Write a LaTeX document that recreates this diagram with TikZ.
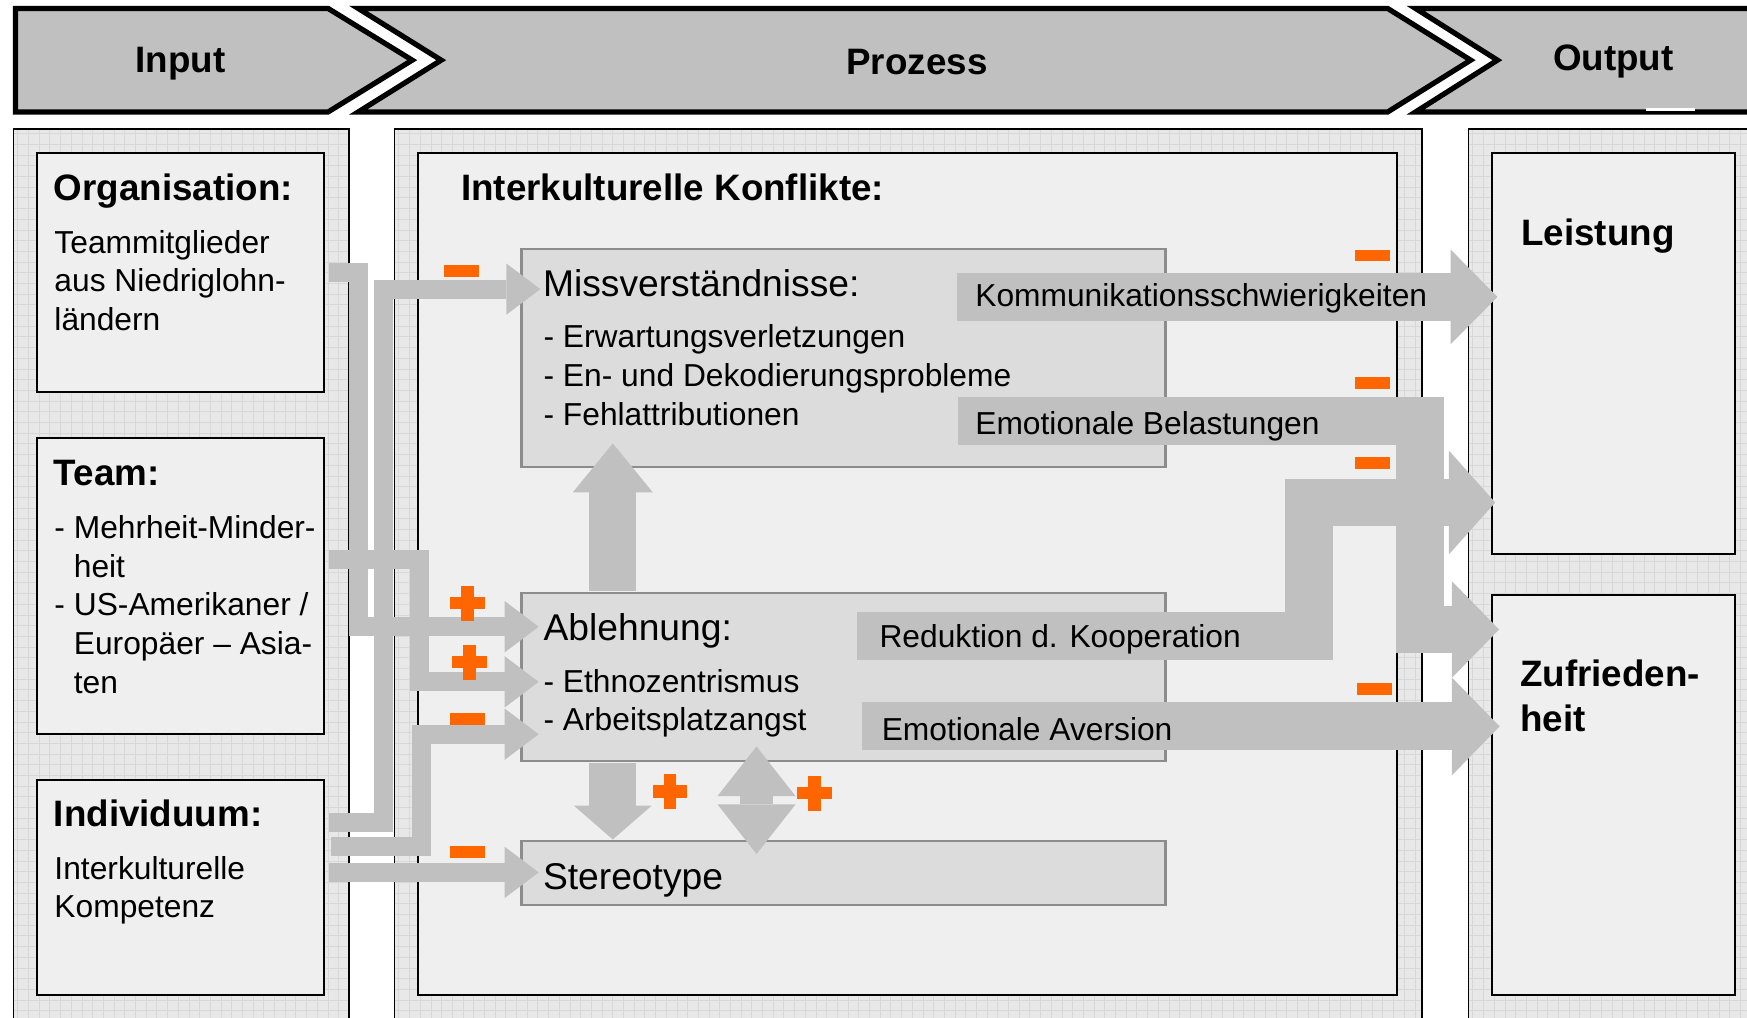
\documentclass[tikz,border=0pt]{standalone}
\usepackage{fontspec}
\setmainfont{Liberation Sans}
\usetikzlibrary{arrows.meta,fit,calc}

\definecolor{bannergrey}{HTML}{C0C0C0}
\definecolor{panelgrey}{HTML}{E8E8E8}
\definecolor{gridgrey}{HTML}{D8D8D8}
\definecolor{boxfill}{HTML}{EFEFEF}
\definecolor{procfill}{HTML}{DCDCDC}
\definecolor{procline}{HTML}{8C8C8C}
\definecolor{flow}{HTML}{C0C0C0}
\definecolor{signorange}{HTML}{FF6600}

\newcommand\fHead{\fontsize{16.5pt}{20.5pt}\selectfont\bfseries}
\newcommand\fBody{\fontsize{14.25pt}{17.35pt}\selectfont}
\newcommand\fTitle{\fontsize{16.7pt}{20pt}\selectfont}
\newcommand\linesblock[1]{\begin{tabular}[t]{@{}l@{}}#1\end{tabular}}
\newcommand\indentdash{\phantom{-\ }}

% orange influence signs, centred on (#1,#2)
\newcommand\plusat[2]{%
  \fill[signorange] ({#1-15.5},{#2-5.5}) rectangle ({#1+15.5},{#2+5.5});
  \fill[signorange] ({#1-5.5},{#2-15.5}) rectangle ({#1+5.5},{#2+15.5});}
\newcommand\minusat[2]{%
  \fill[signorange] ({#1-15.75},{#2-5.25}) rectangle ({#1+15.75},{#2+5.25});}

\begin{document}
\begin{tikzpicture}[x=0.5pt, y=-0.5pt,
  banner/.style={fill=bannergrey, draw=black, line width=2.35pt, line join=miter},
  panelline/.style={draw=black, line width=0.75pt},
  gridline/.style={draw=gridgrey, line width=0.4pt},
  inbox/.style={draw=black, line width=1pt, fill=boxfill, inner sep=0pt},
  procbox/.style={draw=procline, line width=1pt, fill=procfill, inner sep=0pt},
  txt/.style={anchor=base west, inner sep=0pt, font=\fBody},
  head/.style={anchor=base west, inner sep=0pt, font=\fHead},
  ttl/.style={anchor=base west, inner sep=0pt, font=\fTitle},
  thinflow/.style={draw=flow, line width=8.5pt, line join=miter,
    -{Triangle[length=15.25pt, width=23pt, line width=0pt]}},
  fatflow/.style 2 args={draw=flow, line width=21.5pt, line join=miter,
    -{Triangle[length=#1, width=#2, line width=0pt]}}
]
\useasboundingbox (0,0) rectangle (1568,913);
\clip (0,0) rectangle (1568,913);
\fill[white] (0,0) rectangle (1568,913);

% ---------- phase banner ----------
\draw[banner] (14,7.6) -- (294.5,7.6) -- (370,54) -- (294.5,100.5) -- (14,100.5) -- cycle;
\draw[banner] (321.5,7.6) -- (1245.5,7.6) -- (1320,54) -- (1245.5,100.5) -- (321.5,100.5) -- (396,54) -- cycle;
\draw[banner] (1270.5,7.6) -- (1620,7.6) -- (1620,100.5) -- (1270.5,100.5) -- (1344,54) -- cycle;
\fill[white] (1477,96.5) rectangle (1521,99.5);
\node[font=\fHead, anchor=base, inner sep=0pt] (inlbl) at (162,65.5) {Input};
\node[font=\fHead, anchor=base, inner sep=0pt] (prlbl) at (823,66.5) {Prozess};
\node[font=\fHead, anchor=base, inner sep=0pt] (outlbl) at (1448,63.5) {Output};

% ---------- gridded panels ----------
\fill[panelgrey] (12,116) rectangle (313,920);
\begin{scope}
  \clip (12,116) rectangle (313,920);
  \foreach \gx in {16,25.6,...,313} \draw[gridline] (\gx,116) -- (\gx,920);
  \foreach \gy in {120,129.6,...,920} \draw[gridline] (12,\gy) -- (313,\gy);
\end{scope}
\draw[panelline] (12,920) -- (12,116) -- (313,116) -- (313,920);

\fill[panelgrey] (354,116) rectangle (1276,920);
\begin{scope}
  \clip (354,116) rectangle (1276,920);
  \foreach \gx in {358,367.6,...,1276} \draw[gridline] (\gx,116) -- (\gx,920);
  \foreach \gy in {120,129.6,...,920} \draw[gridline] (354,\gy) -- (1276,\gy);
\end{scope}
\draw[panelline] (354,920) -- (354,116) -- (1276,116) -- (1276,920);

\fill[panelgrey] (1318,116) rectangle (1620,920);
\begin{scope}
  \clip (1318,116) rectangle (1620,920);
  \foreach \gx in {1322,1331.6,...,1620} \draw[gridline] (\gx,116) -- (\gx,920);
  \foreach \gy in {120,129.6,...,920} \draw[gridline] (1318,\gy) -- (1620,\gy);
\end{scope}
\draw[panelline] (1318,920) -- (1318,116) -- (1620,116);

% ---------- boxes ----------
\node[inbox, fit={(33,137) (291,352)}] (org) {};
\node[inbox, fit={(33,393) (291,659)}] (team) {};
\node[inbox, fit={(33,700) (291,893)}] (indiv) {};
\node[inbox, fit={(375,137) (1254,893)}] (konf) {};
\node[inbox, fit={(1339,137) (1557,497)}] (leist) {};
\node[inbox, fit={(1339,534) (1557,893)}] (zufr) {};

\node[procbox, fit={(468,223.5) (1046,419.5)}] (miss) {};
\node[procbox, fit={(468,532.5) (1046,683)}] (abl) {};
\node[procbox, fit={(468,755) (1046,812)}] (stereo) {};

% ---------- input influences ----------
\draw[thinflow] ($(org.east)+(3,0.5)$) -- (322,245) -- (322,562.5) -- ($(abl.west)+(16.5,-45.25)$);
\draw[thinflow] ($(indiv.east)+(3,-58.5)$) -- (344,738) -- (344,259.5) -- ($(miss.west)+(18,-62)$);
\draw[thinflow] ($(team.east)+(3,-24)$) -- (376.5,502) -- (376.5,612) -- ($(abl.west)+(16.5,4.25)$);
\draw[thinflow] ($(indiv.east)+(5,-37)$) -- (378,759.5) -- (378,659) -- ($(abl.west)+(16.5,51.25)$);
\draw[thinflow] ($(indiv.east)+(3,-13.5)$) -- ($(stereo.west)+(16.5,-0.5)$);

% ---------- links between the conflict types ----------
\draw[draw=flow, line width=21pt, -{Triangle[length=22pt, width=36pt, line width=0pt]}]
  ($(abl.north)+(-207,-1)$) -- ($(miss.south)+(-207,-22.5)$);
\draw[draw=flow, line width=21pt, -{Triangle[length=15.25pt, width=35pt, line width=0pt]}]
  ($(abl.south)+(-207,1)$) -- ($(stereo.north)+(-207,-0.5)$);
\draw[draw=flow, line width=15pt,
  {Triangle[length=22.25pt, width=35pt, line width=0pt]}-{Triangle[length=22.25pt, width=35pt, line width=0pt]}]
  ($(abl.south)+(-78,-14)$) -- ($(stereo.north)+(-78,12.5)$);

% ---------- output effects ----------
\draw[fatflow={21pt}{42.5pt}] ($(miss.east)+(-188.5,-55)$) -- ($(leist.west)+(6,-50.5)$);
\draw[fatflow={21.25pt}{43.5pt}] ($(miss.east)+(-187,56.5)$) -- (1274.5,378) -- (1274.5,565) -- ($(zufr.west)+(7.5,-148.5)$);
\draw[fatflow={20.75pt}{46.5pt}] ($(abl.east)+(-278,-37.25)$) -- (1175,570.5) -- (1175,451) -- ($(leist.west)+(4,134)$);
\draw[fatflow={21.5pt}{44pt}] ($(abl.east)+(-273,44.25)$) -- ($(zufr.west)+(8,-61.5)$);

% ---------- texts ----------
\node[head] (orgT) at (48,180) {Organisation:};
\node[txt] (orgB) at (48.5,227.2) {\linesblock{Teammitglieder\\aus Niedriglohn-\\ländern}};
\node[head] (teamT) at (48,436) {Team:};
\node[txt] (teamB) at (48.5,483.2) {\linesblock{- Mehrheit-Minder-\\\indentdash heit\\- US-Amerikaner /\\\indentdash Europäer – Asia-\\\indentdash ten}};
\node[head] (indT) at (48,742) {Individuum:};
\node[txt] (indB) at (48.5,789.2) {\linesblock{Interkulturelle\\Kompetenz}};

\node[head] (konfT) at (413.5,180) {Interkulturelle Konflikte:};
\node[ttl] (missT) at (487,266) {Missverständnisse:};
\node[txt] (missB) at (487.5,312.2) {\linesblock{- Erwartungsverletzungen\\- En- und Dekodierungsprobleme\\- Fehlattributionen}};
\node[txt] (komm) at (875,275.2) {Kommunikationsschwierigkeiten};
\node[txt] (belast) at (875,390.2) {Emotionale Belastungen};
\node[ttl] (ablT) at (487.5,575) {Ablehnung:};
\node[txt] (ablB) at (487.5,621.2) {\linesblock{- Ethnozentrismus\\- Arbeitsplatzangst}};
\node[txt] (reduk) at (789,581.2) {Reduktion d. Kooperation};
\node[txt] (avers) at (791,664.2) {Emotionale Aversion};
\node[ttl] (stereoT) at (487,798) {Stereotype};

\node[head] (leistT) at (1365,220) {Leistung};
\node[head] (zufrT) at (1364,615.8) {\linesblock{Zufrieden-\\heit}};

% ---------- influence signs ----------
\minusat{414.25}{243.25}
\plusat{419.5}{541.5}
\plusat{421.5}{594.5}
\minusat{419.5}{645.25}
\minusat{419.5}{764.75}
\plusat{601.5}{710.5}
\plusat{731}{712}
\minusat{1231.5}{229.25}
\minusat{1231.5}{343.75}
\minusat{1231.5}{415.75}
\minusat{1233.5}{618.25}
\end{tikzpicture}
\end{document}
